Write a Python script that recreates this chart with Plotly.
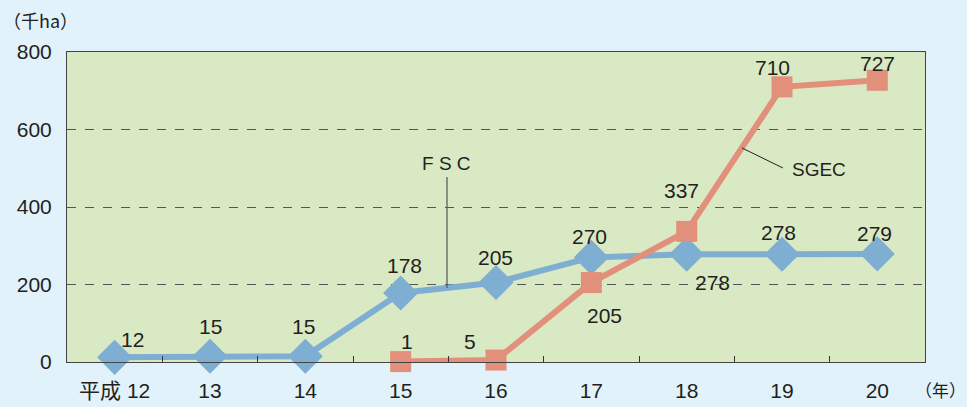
import plotly.graph_objects as go

categories = ["平成 12", "13", "14", "15", "16", "17", "18", "19", "20"]
fsc_values = [12, 15, 15, 178, 205, 270, 278, 278, 279]
sgec_categories = ["15", "16", "17", "18", "19", "20"]
sgec_values = [1, 5, 205, 337, 710, 727]
y_ticks = [0, 200, 400, 600, 800]

BLUE = "#7eaed2"
SALMON = "#e2907b"
TXT = "#231f20"
FONT = "Liberation Sans, Noto Sans CJK JP, sans-serif"
JFONT = "Noto Sans CJK JP, sans-serif"

# plot-area pixel box (for callouts placed in paper coordinates)
pl, pr, pt, pb = 67, 925, 52, 362
def px(x): return (x - pl) / (pr - pl)
def py(y): return (pb - y) / (pb - pt)

fig = go.Figure()
fig.add_trace(go.Scatter(
    x=categories, y=fsc_values, mode="lines+markers", name="FSC",
    line=dict(color=BLUE, width=6),
    marker=dict(symbol="diamond", size=27, color=BLUE),
    cliponaxis=False,
))
fig.add_trace(go.Scatter(
    x=sgec_categories, y=sgec_values, mode="lines+markers", name="SGEC",
    line=dict(color=SALMON, width=6),
    marker=dict(symbol="square", size=21, color=SALMON),
    cliponaxis=False,
))

# data labels: (xshift, yshift) offsets in pixels
fsc_off = [(18, 18), (0, 30), (-2, 30), (4, 28), (-1, 25), (-2, 21), (26, -28), (-4, 22), (-3, 20)]
sgec_off = [(6, 20), (-26, 19), (13, -33), (-5, 41), (-10, 19), (0, 17)]
for c, v, (dx, dy) in zip(categories, fsc_values, fsc_off):
    fig.add_annotation(x=categories.index(c), y=v, text=str(v), showarrow=False,
                       xanchor="center", yanchor="middle",
                       xshift=dx, yshift=dy, font=dict(size=21, color=TXT, family=FONT))
for c, v, (dx, dy) in zip(sgec_categories, sgec_values, sgec_off):
    fig.add_annotation(x=categories.index(c), y=v, text=str(v), showarrow=False,
                       xanchor="center", yanchor="middle",
                       xshift=dx, yshift=dy, font=dict(size=21, color=TXT, family=FONT))

# series callouts
def paper_text(x, y, text, size, family):
    fig.add_annotation(x=px(x), y=py(y), xref="paper", yref="paper", text=text,
                       xanchor="center", yanchor="middle", showarrow=False,
                       font=dict(size=size, color=TXT, family=family))

paper_text(446, 163, "F S C", 19, FONT)
paper_text(819, 169, "SGEC", 19, FONT)
fig.add_shape(type="line", xref="paper", yref="paper", x0=px(447), y0=py(177),
              x1=px(447), y1=py(288), line=dict(color="#555", width=1.2))
fig.add_shape(type="line", xref="paper", yref="paper", x0=px(742), y0=py(148),
              x1=px(783), y1=py(168), line=dict(color="#222", width=1))

# unit labels
paper_text(40, 20, "（千ha）", 18, JFONT)
paper_text(940, 389, "（年）", 17, JFONT)

fig.update_layout(
    width=967, height=407,
    margin=dict(l=67, r=42, t=52, b=45, autoexpand=False),
    paper_bgcolor="#e2f2fb",
    plot_bgcolor="#d9e9c3",
    showlegend=False,
    font=dict(family=FONT, size=21, color=TXT),
    xaxis=dict(
        type="category", categoryorder="array", categoryarray=categories,
        range=[-0.5, 8.5], tickson="boundaries", ticks="inside", ticklen=6,
        tickcolor="#333", showline=True, linecolor="#444", linewidth=1, mirror=True,
        showgrid=False, tickfont=dict(size=21, color=TXT), ticklabelstandoff=10,
        automargin=False,
    ),
    yaxis=dict(
        range=[0, 800], tickvals=y_ticks, showline=True, linecolor="#444", linewidth=1,
        mirror=True, showgrid=True, gridcolor="#555", griddash="dash", gridwidth=1,
        zeroline=False, tickfont=dict(size=21, color=TXT), ticklabelstandoff=10,
        automargin=False,
    ),
)

fig.write_html("out.html", config={"displayModeBar": False},
               post_script="document.body.style.margin='0';")
